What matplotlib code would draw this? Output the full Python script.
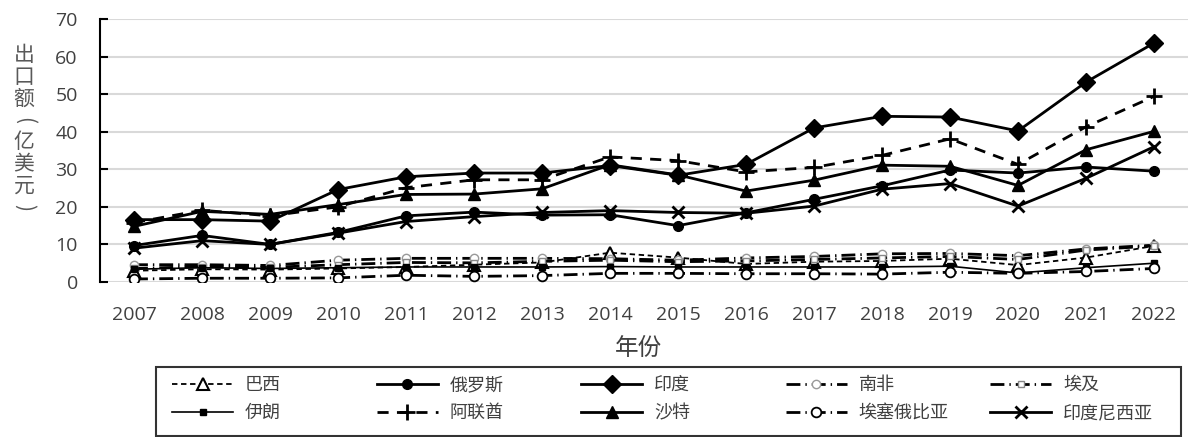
import matplotlib
matplotlib.use("Agg")
import matplotlib.pyplot as plt
from matplotlib.patches import Rectangle

plt.rcParams['font.family'] = ['Open Sans', 'Noto Sans CJK SC', 'DejaVu Sans']

years = [str(y) for y in range(2007, 2023)]
brazil = [3.0, 3.4, 3.3, 3.6, 4.0, 4.6, 5.2, 7.8, 6.5, 4.8, 5.4, 5.6, 6.2, 4.5, 6.5, 9.6]
russia = [9.7, 12.4, 10.0, 13.2, 17.6, 18.6, 17.8, 17.9, 15.0, 18.4, 22.0, 25.6, 29.8, 29.0, 30.6, 29.5]
india = [16.6, 16.6, 16.2, 24.6, 28.0, 29.0, 29.0, 31.0, 28.4, 31.3, 41.0, 44.1, 43.9, 40.2, 53.2, 63.6]
south_africa = [4.6, 4.6, 4.4, 5.8, 6.3, 6.3, 6.3, 6.2, 5.8, 6.4, 6.8, 7.5, 7.6, 7.0, 8.8, 9.8]
egypt = [3.6, 4.1, 3.9, 4.6, 5.2, 5.1, 5.5, 5.8, 5.4, 5.6, 6.0, 6.4, 6.8, 6.0, 8.5, 9.6]
iran = [3.4, 3.8, 3.6, 3.8, 4.0, 4.0, 4.0, 4.1, 4.0, 4.0, 4.0, 4.0, 4.2, 2.4, 3.8, 5.0]
uae = [15.8, 19.1, 17.6, 20.0, 25.1, 27.2, 27.2, 33.3, 32.3, 29.3, 30.5, 33.7, 38.1, 31.3, 41.3, 49.4]
saudi = [14.8, 18.8, 18.0, 20.6, 23.3, 23.4, 24.8, 31.2, 28.5, 24.2, 27.1, 31.1, 30.8, 25.7, 35.2, 40.1]
ethiopia = [0.8, 1.0, 1.0, 1.1, 1.8, 1.5, 1.7, 2.3, 2.3, 2.2, 2.2, 2.1, 2.6, 2.3, 2.8, 3.6]
indonesia = [9.0, 11.0, 10.0, 13.0, 16.1, 17.4, 18.5, 19.0, 18.5, 18.3, 20.2, 24.7, 26.2, 20.2, 27.6, 36.0]

names = ['巴西', '俄罗斯', '印度', '南非', '埃及', '伊朗', '阿联酋', '沙特', '埃塞俄比亚', '印度尼西亚']
yticks = [0, 10, 20, 30, 40, 50, 60, 70]

W, H = 1190, 437
fig = plt.figure(figsize=(W / 100, H / 100), dpi=100)
ax = fig.add_axes([100 / W, 1 - 282 / H, (1188 - 100) / W, (282 - 19) / H])

x = list(range(len(years)))
dashdot = (5, 1.8, 0.5, 1.8)
styles = {
    '巴西': dict(data=brazil, color='black', lw=1.3, dashes=(3, 2), marker='^', ms=8, mfc='white', mec='black', mew=1.5),
    '俄罗斯': dict(data=russia, color='black', lw=2.0, ls='-', marker='o', ms=7, mfc='black', mec='black'),
    '印度': dict(data=india, color='black', lw=2.0, ls='-', marker='D', ms=9, mfc='black', mec='black'),
    '南非': dict(data=south_africa, color='black', lw=2.0, dashes=dashdot, marker='o', ms=6, mfc='white', mec='#999999', mew=1.0),
    '埃及': dict(data=egypt, color='black', lw=2.0, dashes=dashdot, marker='s', ms=5, mfc='white', mec='#888888', mew=1.0),
    '伊朗': dict(data=iran, color='black', lw=1.2, ls='-', marker='s', ms=5, mfc='black', mec='black'),
    '阿联酋': dict(data=uae, color='black', lw=2.0, dashes=(4, 3), marker='+', ms=11, mew=2.0, mec='black'),
    '沙特': dict(data=saudi, color='black', lw=2.0, ls='-', marker='^', ms=8, mfc='black', mec='black'),
    '埃塞俄比亚': dict(data=ethiopia, color='black', lw=2.0, dashes=dashdot, marker='o', ms=7, mfc='white', mec='black', mew=1.3),
    '印度尼西亚': dict(data=indonesia, color='black', lw=2.0, ls='-', marker='x', ms=9, mew=2.0, mec='black'),
}

handles = {}
for name in names:
    st = dict(styles[name])
    data = st.pop('data')
    ln, = ax.plot(x, data, label=name, **st)
    handles[name] = ln

ax.set_xlim(-0.5, len(years) - 0.5)
ax.set_ylim(0, 70)
ax.set_yticks(yticks)
ax.set_xticks(x)
ax.set_xticklabels(years)
ax.grid(axis='y', color='#d9d9d9', lw=1.5)
ax.set_axisbelow(True)
for s in ['top', 'right', 'bottom']:
    ax.spines[s].set_visible(False)
ax.spines['left'].set_color('black')
ax.spines['left'].set_linewidth(1.5)
ax.tick_params(axis='y', direction='in', length=6, width=1.5, pad=16, labelsize=14, labelcolor='#404040')
ax.tick_params(axis='x', length=0, pad=17, labelsize=14, labelcolor='#404040')

# x label
fig.text(638 / W, 1 - 348 / H, '年份', ha='center', va='center', fontsize=17,
         color='#404040', family=['Noto Sans CJK SC', 'DejaVu Sans'])
# vertical y label (upright stacked characters, parentheses turned)
ylab = ['出', '口', '额', '(', '亿', '美', '元', ')']
for i, ch in enumerate(ylab):
    rot = -90 if ch in '()' else 0
    fig.text(24 / W, 1 - (55 + i * 21.8) / H, ch, ha='center', va='center', fontsize=15,
             rotation=rot, color='#595959', family=['Noto Sans CJK SC', 'DejaVu Sans'])

# legend: 5 columns with uniform stride, 2 rows
rows = [names[:5], names[5:]]
for c in range(5):
    col = [rows[0][c], rows[1][c]]
    fig.legend([handles[n] for n in col], col, loc='upper left',
               bbox_to_anchor=((172 + c * 204.5) / W, 1 - 376 / H),
               frameon=False, borderpad=0, borderaxespad=0,
               handlelength=3.4, handletextpad=0.65, labelspacing=0.55,
               prop={'family': ['Noto Sans CJK SC', 'DejaVu Sans'], 'size': 13},
               labelcolor='#404040')
fig.patches.append(Rectangle((156 / W, 1 - 436 / H), (1181 - 156) / W, (436 - 367) / H,
                             transform=fig.transFigure, fill=False, edgecolor='#333333', lw=1.5))

fig.savefig('out.png', dpi=100)
